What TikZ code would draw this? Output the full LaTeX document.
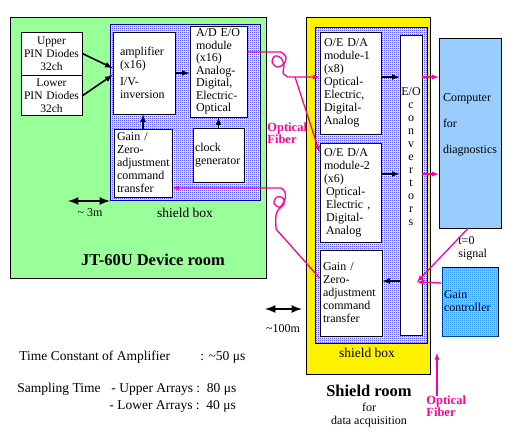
\documentclass[tikz,border=0pt]{standalone}
\usepackage{fontspec}
\setmainfont{Liberation Serif}
\usetikzlibrary{arrows}
\usetikzlibrary{positioning,patterns}

\definecolor{roomgreen}{RGB}{153,255,153}
\definecolor{compblue}{RGB}{153,204,255}
\definecolor{fiberpink}{RGB}{255,0,153}
\definecolor{dotblue}{RGB}{0,0,255}
\definecolor{ctldot}{RGB}{0,140,255}

% one blue dot on every other pixel
\pgfdeclarepatternformonly{checkdots}{\pgfqpoint{0pt}{0pt}}{\pgfqpoint{2pt}{2pt}}{\pgfqpoint{2pt}{2pt}}{%
	\pgfpathrectangle{\pgfqpoint{0pt}{0pt}}{\pgfqpoint{1pt}{1pt}}%
	\pgfpathrectangle{\pgfqpoint{1pt}{1pt}}{\pgfqpoint{1pt}{1pt}}%
	\pgfusepath{fill}}

\tikzset{
	blk/.style={draw, fill=white, align=left, inner xsep=2pt, inner ysep=0pt, font=\fontsize{12}{13}\selectfont},
	shbox/.style={draw, fill=white, postaction={pattern=checkdots, pattern color=dotblue}},
	fiber/.style={draw=fiberpink, line width=1.3pt},
	sig/.style={->, line width=1.6pt},
	lbl/.style={inner sep=0pt, align=center, font=\fontsize{12}{13}\selectfont},
	note/.style={inner sep=0pt, anchor=west, font=\fontsize{13.5}{15}\selectfont},
	title/.style={inner sep=0pt, font=\fontsize{16.5}{18}\selectfont\bfseries},
	fibtxt/.style={inner sep=0pt, align=left, text=fiberpink, font=\fontsize{12.5}{12}\selectfont\bfseries}
}

\begin{document}
\begin{tikzpicture}[x=1pt, y=-1pt, >=latex, line width=0.8pt]
	\path[use as bounding box, fill=white] (0,0) rectangle (520,447);

	% device room
	\node[draw, fill=roomgreen, minimum width=256pt, minimum height=261pt] (devroom) at (138,147.5) {};
	\node[shbox, minimum width=150pt, minimum height=176pt] (shboxL) at (185,112) {};

	\node[blk, align=center, inner xsep=1pt, text width=59pt, minimum height=43pt, font=\fontsize{11.5}{13}\selectfont] (upin) at (51.5,53.5) {Upper\\PIN Diodes\\32ch};
	\node[blk, align=center, inner xsep=1pt, text width=59pt, minimum height=40pt, font=\fontsize{11.5}{13}\selectfont, below=0pt of upin] (lpin) {Lower\\PIN Diodes\\32ch};
	\node[blk, inner xsep=7pt, text width=48pt, minimum height=82pt] (amp) at (144,73) {amplifier\\(x16)\\[4pt]I/V-\\inversion};
	\node[blk, inner xsep=6pt, text width=45pt, minimum height=91pt, font=\fontsize{12}{12.5}\selectfont] (ad) at (218.5,71.5) {A/D E/O\\module\\(x16)\\Analog-\\Digital,\\Electric-\\Optical};
	\node[blk, inner xsep=3pt, text width=52pt, minimum height=68pt] (gainL) at (143,163) {Gain /\\Zero-\\adjustment\\command\\transfer};
	\node[blk, text width=47pt, minimum height=54pt] (clk) at (218.5,155) {clock\\generator};

	\node[lbl, font=\fontsize{13.5}{15}\selectfont] (shlblL) at (185,213) {shield box};
	\node[title] (devlbl) at (153,260) {JT-60U Device room};

	% shield room
	\node[draw, fill=yellow, minimum width=124pt, minimum height=357pt] (shroom) at (368,195.5) {};
	\node[shbox, minimum width=112pt, minimum height=316pt] (shboxR) at (371,185) {};

	\node[blk, inner xsep=4pt, text width=53pt, minimum height=102pt] (mod1) at (350.5,83) {O/E D/A\\module-1\\(x8)\\Optical-\\Electric,\\Digital-\\Analog};
	\node[blk, inner xsep=4pt, text width=53pt, minimum height=99pt] (mod2) at (350.5,192.5) {O/E D/A\\module-2\\(x6)\\\hspace*{2pt}Optical-\\\hspace*{2pt}Electric ,\\\hspace*{2pt}Digital-\\\hspace*{2pt}Analog};
	\node[draw, fill=white, minimum width=22pt, minimum height=300pt] (conv) at (411,185) {};
	\node[lbl] (convtxt) at (411,157) {E/O\\c\\o\\n\\v\\e\\r\\t\\o\\r\\s};
	\node[blk, inner xsep=3pt, text width=56pt, minimum height=86pt] (gainR) at (351,293) {Gain /\\Zero-\\adjustment\\command\\transfer};

	\node[lbl, font=\fontsize{13.5}{15}\selectfont] (shlblR) at (367,353) {shield box};
	\node[title] (shrlbl) at (369,391) {Shield room};
	\node[lbl] (forlbl) at (369,415.5) {for\\data acquisition};

	% diagnostics side
	\node[blk, inner xsep=4pt, fill=compblue, text width=54pt, minimum height=190pt] (comp) at (470,133) {Computer\\[13pt]for\\[13pt]diagnostics\\[5pt]\mbox{}};
	\node[blk, fill=compblue, postaction={pattern=checkdots, pattern color=ctldot}, text width=52pt, minimum height=69pt] (gctl) at (470,301.5) {Gain\\controller};
	\node[lbl, anchor=west, align=left] (t0lbl) at (458,248) {t=0\\signal};

	% fibre labels
	\node[fibtxt, anchor=west] (fib1) at (267,133) {Optical\\Fiber};
	\node[fibtxt, anchor=west] (fib2) at (426,406.5) {Optical\\Fiber};

	% distances
	\coordinate (m3a) at (68,201);
	\coordinate (m3b) at (110,201);
	\draw[<->, line width=2.5pt] (m3a) -- (m3b);
	\node[lbl] (m3lbl) at (90,213) {\textasciitilde\ 3m};
	\coordinate (m100a) at (265,309);
	\coordinate (m100b) at (302,309);
	\draw[<->, line width=2.5pt] (m100a) -- (m100b);
	\node[lbl] (m100lbl) at (283,329) {\textasciitilde100m};

	% signal arrows
	\draw[sig] (upin.east) -- ([yshift=5pt]amp.west);
	\draw[sig] (lpin.east) -- ([yshift=-2pt]amp.west);
	\draw[sig] (amp.east) -- (ad.west |- amp.east);
	\draw[sig] (gainL.north) -- (gainL.north |- amp.south);
	\draw[sig] (clk.north) -- (clk.north |- ad.south);
	\draw[sig] ([yshift=6pt]mod1.east) -- ([yshift=6pt]mod1.east -| conv.west);
	\draw[sig] ([yshift=18.5pt]mod2.east) -- ([yshift=18.5pt]mod2.east -| conv.west);
	\draw[sig] ([yshift=12pt]gainR.east -| conv.west) -- ([yshift=12pt]gainR.east);

	% optical fibres
	\draw[fiber, ->] ([yshift=6pt]mod1.east -| conv.east) -- ([yshift=6pt]mod1.east -| comp.west);
	\draw[fiber, ->] ([yshift=18.5pt]mod2.east -| conv.east) -- ([yshift=18.5pt]mod2.east -| comp.west);
	\coordinate (cin) at (417,282);
	\draw[fiber, ->] ([yshift=18.5pt]gctl.west) -- (cin);
	\draw[fiber, ->] ([xshift=-2pt]comp.south) -- (cin);

	\coordinate (fsplit) at (295,77);
	\draw[fiber, ->] ([yshift=19.5pt]ad.east) -- plot[smooth, tension=0.6] coordinates {(281,52) (286,57) (284,64) (277,67) (272,62) (275,56) (281,58) (284,66) (283,73) (288,77)} -- (fsplit) -- ([yshift=6pt]mod1.west);
	\draw[fiber, ->] (fsplit) -- ([yshift=40pt]mod2.west);
	\draw[fiber, ->] ([yshift=15pt]gainR.west) -- plot[smooth, tension=0.6] coordinates {(276,229) (276,215) (279,209) (284,204) (283,198) (277,197) (274,203) (280,207) (285,199) (285,192) (281,188)} -- ([yshift=-25pt]gainL.east);

	\coordinate (fibtop) at (437,353);
	\draw[fiber, ->] (fibtop |- fib2.north) -- (fibtop);

	% timing notes
	\node[note] (tc) at (19,357) {Time Constant of Amplifier};
	\node[note] (tcv) at (200,357) {: \textasciitilde50 μs};
	\node[note] (st) at (17,389) {Sampling Time};
	\node[note] (stu) at (111,389) {- Upper Arrays :\ \ 80 μs};
	\node[note] (stl) at (109,406) {- Lower Arrays :\ \ 40 μs};
\end{tikzpicture}
\end{document}
